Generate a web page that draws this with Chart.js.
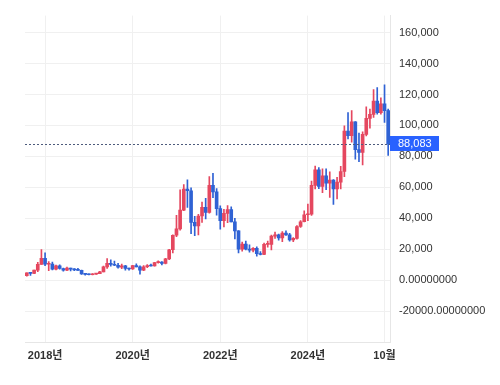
<!DOCTYPE html>
<html>
<head>
<meta charset="utf-8">
<script src="https://cdn.jsdelivr.net/npm/chart.js@4.4.1/dist/chart.umd.min.js"></script>
<style>
  html, body { margin: 0; padding: 0; background: #fff; }
  canvas { display: block; }
</style>
</head>
<body>
<canvas id="myChart" width="500" height="385"></canvas>
<script>
// monthly candles, Aug 2017 .. Nov 2025
var months = [
  '2017-08','2017-09','2017-10','2017-11','2017-12',
  '2018-01','2018-02','2018-03','2018-04','2018-05','2018-06','2018-07','2018-08','2018-09','2018-10','2018-11','2018-12',
  '2019-01','2019-02','2019-03','2019-04','2019-05','2019-06','2019-07','2019-08','2019-09','2019-10','2019-11','2019-12',
  '2020-01','2020-02','2020-03','2020-04','2020-05','2020-06','2020-07','2020-08','2020-09','2020-10','2020-11','2020-12',
  '2021-01','2021-02','2021-03','2021-04','2021-05','2021-06','2021-07','2021-08','2021-09','2021-10','2021-11','2021-12',
  '2022-01','2022-02','2022-03','2022-04','2022-05','2022-06','2022-07','2022-08','2022-09','2022-10','2022-11','2022-12',
  '2023-01','2023-02','2023-03','2023-04','2023-05','2023-06','2023-07','2023-08','2023-09','2023-10','2023-11','2023-12',
  '2024-01','2024-02','2024-03','2024-04','2024-05','2024-06','2024-07','2024-08','2024-09','2024-10','2024-11','2024-12',
  '2025-01','2025-02','2025-03','2025-04','2025-05','2025-06','2025-07','2025-08','2025-09','2025-10','2025-11'
];

var open = [
  2871, 4701, 4341, 6440, 10199,
  14112, 10237, 10385, 7003, 9251, 7500, 6411, 7769, 7044, 6619, 6318, 4025,
  3746, 3460, 3853, 4105, 5350, 8574, 10818, 10077, 9630, 8299, 9193, 7571,
  7194, 9346, 8544, 6412, 8630, 9463, 9145, 11322, 11680, 10786, 13781, 19625,
  28990, 33110, 45240, 58800, 57750, 37300, 35040, 41460, 47100, 43790, 61300, 57000,
  46200, 38480, 43160, 45530, 37640, 31800, 19940, 23290, 20050, 19420, 20490, 17160,
  16540, 23140, 23150, 28480, 29250, 27220, 30480, 29230, 25930, 26970, 34650, 37720,
  42280, 42580, 61200, 71300, 60640, 67500, 62700, 64600, 58970, 63330, 70200, 96400,
  93400, 102400, 84350, 82550, 94200, 104600, 107100, 115800, 108300, 114000, 109600
];
var high = [
  4736, 4975, 6470, 11517, 19783,
  17712, 11958, 11710, 9745, 9964, 7760, 8474, 7770, 7410, 7680, 6553, 4309,
  4109, 4210, 4296, 5642, 9074, 13970, 13183, 12326, 10905, 10370, 9505, 7744,
  9578, 10500, 9188, 9460, 10067, 10380, 11434, 12468, 12050, 14100, 19860, 29300,
  41950, 58350, 61790, 64860, 59600, 41300, 42600, 50480, 52920, 66990, 69000, 59100,
  47990, 45800, 48190, 47440, 40000, 31970, 24670, 25200, 22800, 20990, 21470, 18390,
  23960, 25250, 29190, 31000, 29820, 31430, 31860, 30230, 27480, 35200, 38450, 44730,
  49100, 64000, 73800, 72800, 71950, 71950, 70000, 65000, 66500, 73620, 99800, 108300,
  109600, 102500, 95000, 95800, 112000, 110500, 123200, 124500, 117900, 126200, 110600
];
var low = [
  2580, 2972, 4110, 5519, 10100,
  9402, 6048, 6675, 6526, 7090, 5826, 6124, 5880, 6123, 6206, 3652, 3156,
  3400, 3391, 3733, 4096, 5332, 7565, 9097, 9421, 7760, 7424, 6515, 6435,
  6871, 8471, 3858, 6150, 8117, 8975, 8985, 10994, 9825, 10440, 13200, 17580,
  28130, 32300, 44970, 47000, 30000, 28800, 29280, 37330, 39600, 43290, 53250, 42000,
  32930, 34320, 37160, 37580, 26700, 17600, 18780, 19520, 18150, 18200, 15480, 16260,
  16500, 21350, 19550, 26940, 25810, 24800, 28860, 25170, 24900, 26550, 34100, 37620,
  38500, 41880, 59000, 59100, 56550, 58400, 53500, 49000, 52550, 58900, 66800, 91300,
  89200, 78200, 76600, 74400, 93300, 98200, 105200, 107300, 107300, 102000, 80600
];
var close = [
  4701, 4341, 6440, 10199, 14112,
  10237, 10385, 7003, 9251, 7500, 6411, 7769, 7044, 6619, 6318, 4025, 3746,
  3460, 3853, 4105, 5350, 8574, 10818, 10077, 9630, 8299, 9193, 7571, 7194,
  9346, 8544, 6412, 8630, 9463, 9145, 11322, 11680, 10786, 13781, 19625, 28990,
  33110, 45240, 58800, 57750, 37300, 35040, 41460, 47100, 43790, 61300, 57000, 46200,
  38480, 43160, 45530, 37640, 31800, 19940, 23290, 20050, 19420, 20490, 17160, 16540,
  23140, 23150, 28480, 29250, 27220, 30480, 29230, 25930, 26970, 34650, 37720, 42280,
  42580, 61200, 71300, 60640, 67500, 62700, 64600, 58970, 63330, 70200, 96400, 93400,
  102400, 84350, 82550, 94200, 104600, 107100, 115800, 108300, 114000, 109600, 88083
];

// x tick labels shown (month -> label)
var xTickLabels = { '2018-01': '2018년', '2020-01': '2020년', '2022-01': '2022년', '2024-01': '2024년', '2025-10': '10월' };
var yTickValues = [-20000, 0, 20000, 40000, 60000, 80000, 100000, 120000, 140000, 160000];
var lastPrice = close[close.length - 1];

var upColor = '#e5475f';
var downColor = '#2f62d4';
var candleColors = months.map(function (m, i) { return close[i] >= open[i] ? upColor : downColor; });

var priceLine = {
  id: 'priceLine',
  afterDatasetsDraw: function (chart) {
    var ctx = chart.ctx, area = chart.chartArea;
    var y = Math.round(chart.scales.y.getPixelForValue(lastPrice)) + 0.5;
    ctx.save();
    ctx.strokeStyle = '#4d5b7c';
    ctx.lineWidth = 1;
    ctx.setLineDash([2, 2]);
    ctx.beginPath();
    ctx.moveTo(area.left, y);
    ctx.lineTo(area.right, y);
    ctx.stroke();
    ctx.restore();
  },
  afterDraw: function (chart) {
    var ctx = chart.ctx, area = chart.chartArea;
    var y = Math.round(chart.scales.y.getPixelForValue(lastPrice));
    ctx.save();
    ctx.fillStyle = '#2962ff';
    ctx.fillRect(area.right, y - 8, 49, 15);
    ctx.fillStyle = '#fff';
    ctx.font = '11px "Liberation Sans", Arial, sans-serif';
    ctx.textBaseline = 'middle';
    ctx.textAlign = 'left';
    ctx.fillText(lastPrice.toLocaleString('en-US'), area.right + 8, y);
    ctx.restore();
  }
};

var ctx = document.getElementById('myChart').getContext('2d');
var myChart = new Chart(ctx, {
  type: 'bar',
  data: {
    labels: months,
    datasets: [{
      label: 'wick',
      data: months.map(function (m, i) { return [low[i], high[i]]; }),
      backgroundColor: candleColors,
      barThickness: 1,
      grouped: false,
      order: 1
    }, {
      label: 'body',
      data: months.map(function (m, i) { return [open[i], close[i]]; }),
      backgroundColor: candleColors,
      barThickness: 3,
      minBarLength: 1,
      grouped: false,
      order: 0
    }]
  },
  options: {
    responsive: false,
    devicePixelRatio: 1,
    animation: false,
    layout: { padding: { left: 25, top: 15, right: 0, bottom: 0 } },
    plugins: { legend: { display: false }, tooltip: { enabled: false } },
    scales: {
      x: {
        type: 'category',
        offset: true,
        grid: { offset: false, color: '#f0f0f0', drawTicks: false },
        border: { color: '#e6e6e6' },
        ticks: {
          autoSkip: false,
          maxRotation: 0,
          padding: 7,
          color: '#333',
          font: { family: '"Liberation Sans", "Noto Sans CJK KR", sans-serif', size: 11, weight: 'bold' },
          callback: function (v) {
            var lab = xTickLabels[months[v]];
            return lab ? lab : null;
          }
        },
        afterFit: function (s) { s.height = 43; }
      },
      y: {
        position: 'right',
        min: -40000,
        max: 171000,
        grid: { color: '#f0f0f0', drawTicks: false },
        border: { color: '#e6e6e6' },
        afterBuildTicks: function (s) {
          s.ticks = yTickValues.map(function (v) { return { value: v }; });
        },
        ticks: {
          padding: 9,
          color: '#333',
          font: { family: '"Liberation Sans", Arial, sans-serif', size: 11 },
          callback: function (v) {
            if (v > 0) return v.toLocaleString('en-US');
            return v.toFixed(8);
          }
        },
        afterFit: function (s) { s.width = 110; }
      }
    }
  },
  plugins: [priceLine]
});
</script>
</body>
</html>
